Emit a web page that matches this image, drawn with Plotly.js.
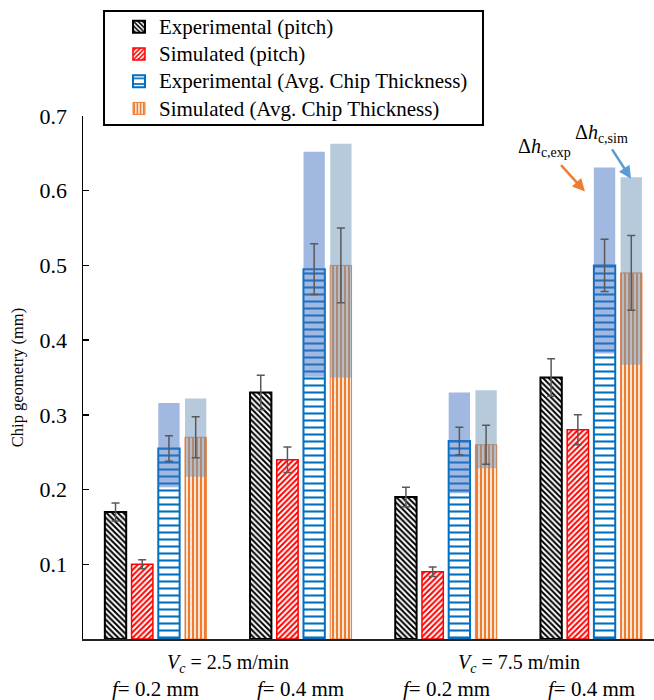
<!DOCTYPE html>
<html>
<head>
<meta charset="utf-8">
<script src="https://cdn.plot.ly/plotly-3.0.1.min.js"></script>
<style>html,body{margin:0;padding:0;background:#fff;}#chart{width:654px;height:700px;}</style>
</head>
<body>
<div id="chart"></div>
<script>
// ---------- data ----------
const groupIndex = [0, 1, 2, 3];
const speedLabels = ['2.5', '7.5'];
const feedLabels = ['0.2', '0.4', '0.2', '0.4'];

const expPitch = [0.17, 0.33, 0.19, 0.35];
const expPitchErr = [0.012, 0.023, 0.013, 0.025];
const simPitch = [0.10, 0.24, 0.09, 0.28];
const simPitchErr = [0.006, 0.017, 0.0065, 0.02];
const expThick = [0.255, 0.495, 0.265, 0.50];
const expThickErr = [0.017, 0.034, 0.0185, 0.035];
const simThick = [0.27, 0.50, 0.26, 0.49];
const simThickErr = [0.0275, 0.05, 0.026, 0.05];

const deltaExpLow = [0.203, 0.351, 0.195, 0.382];
const deltaExpHigh = [0.316, 0.652, 0.330, 0.631];
const deltaSimLow = [0.217, 0.350, 0.2285, 0.367];
const deltaSimHigh = [0.322, 0.663, 0.333, 0.618];

const seriesNames = ['Experimental (pitch)', 'Simulated (pitch)',
  'Experimental (Avg. Chip Thickness)', 'Simulated (Avg. Chip Thickness)'];

// ---------- layout helpers ----------
const slot = 0.184, barW = 0.147;
const off = i => (i - 1.5) * slot - barW / 2;
const ctr = i => (i - 1.5) * slot;
const serif = 'Liberation Serif, Times New Roman, serif';

function barTrace(name, y, i, color, shape, size, solidity, lw) {
  return {
    type: 'bar', name: '<span style="font-size:21px">' + name + '</span>', x: groupIndex, y: y,
    width: barW, offset: off(i),
    marker: {
      color: '#ffffff',
      line: {color: color, width: lw},
      pattern: {shape: shape, fgcolor: color, bgcolor: '#ffffff', fillmode: 'replace', size: size, solidity: solidity}
    },
    hoverinfo: 'y'
  };
}
function deltaTrace(low, high, i, color) {
  return {
    type: 'bar', x: groupIndex, base: low, y: high.map((h, k) => h - low[k]),
    width: barW, offset: off(i), showlegend: false,
    marker: {color: color, line: {width: 0}}, hoverinfo: 'skip'
  };
}
function errTrace(y, err, i) {
  return {
    type: 'scatter', mode: 'markers', x: groupIndex.map(g => g + ctr(i)), y: y,
    marker: {size: 1, color: 'rgba(0,0,0,0)'}, showlegend: false, hoverinfo: 'skip',
    error_y: {type: 'data', array: err, visible: true, color: '#595959', thickness: 1.5, width: 4}
  };
}

const traces = [
  barTrace(seriesNames[0], expPitch, 0, '#000000', '\\', 4, 0.5, 2),
  barTrace(seriesNames[1], simPitch, 1, '#FF0000', '/', 4, 0.5, 1.5),
  barTrace(seriesNames[2], expThick, 2, '#0070C0', '-', 7, 0.3, 2),
  barTrace(seriesNames[3], simThick, 3, '#ED7D31', '|', 4, 0.6, 1),
  deltaTrace(deltaExpLow, deltaExpHigh, 2, 'rgba(68,114,196,0.5)'),
  deltaTrace(deltaSimLow, deltaSimHigh, 3, 'rgba(112,150,185,0.5)'),
  errTrace(expPitch, expPitchErr, 0),
  errTrace(simPitch, simPitchErr, 1),
  errTrace(expThick, expThickErr, 2),
  errTrace(simThick, simThickErr, 3)
];

const annotations = [];
speedLabels.forEach((s, k) => annotations.push({
  xref: 'x', yref: 'paper', x: 2 * k + 0.5, y: -0.0478, yanchor: 'middle', showarrow: false,
  text: '<i>V<sub>c</sub></i> = ' + s + ' m/min', font: {family: serif, size: 20, color: '#000'}
}));
feedLabels.forEach((f, k) => annotations.push({
  xref: 'x', yref: 'paper', x: groupIndex[k], y: -0.0956, yanchor: 'middle', showarrow: false,
  text: '<i>f</i>= ' + f + ' mm', font: {family: serif, size: 21, color: '#000'}
}));
annotations.push(
  {xref: 'x', yref: 'y', x: 2.957, y: 0.599, ax: -40, ay: -44, showarrow: true,
   text: 'Δ<i>h</i><sub>c,exp</sub>', font: {family: serif, size: 20, color: '#000'},
   arrowcolor: '#ED7D31', arrowwidth: 2.5, arrowhead: 2, arrowsize: 1, startstandoff: 5},
  {xref: 'x', yref: 'y', x: 3.274, y: 0.616, ax: -29, ay: -45, showarrow: true,
   text: 'Δ<i>h</i><sub>c,sim</sub>', font: {family: serif, size: 20, color: '#000'},
   arrowcolor: '#5B9BD5', arrowwidth: 2.5, arrowhead: 2, arrowsize: 1, startstandoff: 2}
);

const layout = {
  width: 654, height: 700,
  margin: {l: 83, r: 0, t: 116, b: 61},
  paper_bgcolor: '#ffffff', plot_bgcolor: '#ffffff',
  barmode: 'overlay',
  showlegend: true,
  legend: {x: 0.063, xanchor: 'left', y: 1.206, yanchor: 'top', bgcolor: 'rgba(0,0,0,0)',
           borderwidth: 0, font: {family: serif, size: 18.6, color: '#000'}, traceorder: 'normal'},
  xaxis: {range: [-0.5, 3.4325], showline: true, linecolor: '#222', linewidth: 2,
          showticklabels: false, ticks: '', showgrid: false, zeroline: false, fixedrange: true},
  yaxis: {range: [0, 0.7], tickvals: [0.1, 0.2, 0.3, 0.4, 0.5, 0.6, 0.7],
          ticktext: ['0.1', '0.2', '0.3', '0.4', '0.5', '0.6', '0.7'],
          ticks: 'inside', ticklen: 6, tickwidth: 1.5, tickcolor: '#000',
          showline: true, linecolor: '#000', linewidth: 1.5, showgrid: false, zeroline: false,
          ticklabelstandoff: 10,
          tickfont: {family: serif, size: 22, color: '#000'},
          title: {text: 'Chip geometry (mm)', standoff: 12, font: {family: serif, size: 16.5, color: '#000'}}},
  shapes: [{type: 'rect', xref: 'paper', yref: 'paper', x0: 0.0368, x1: 0.7005, y0: 0.9828, y1: 1.2008,
            line: {color: '#000', width: 2}, fillcolor: 'rgba(0,0,0,0)'}],
  annotations: annotations
};

Plotly.newPlot('chart', traces, layout, {displayModeBar: false, staticPlot: true});
</script>
</body>
</html>
